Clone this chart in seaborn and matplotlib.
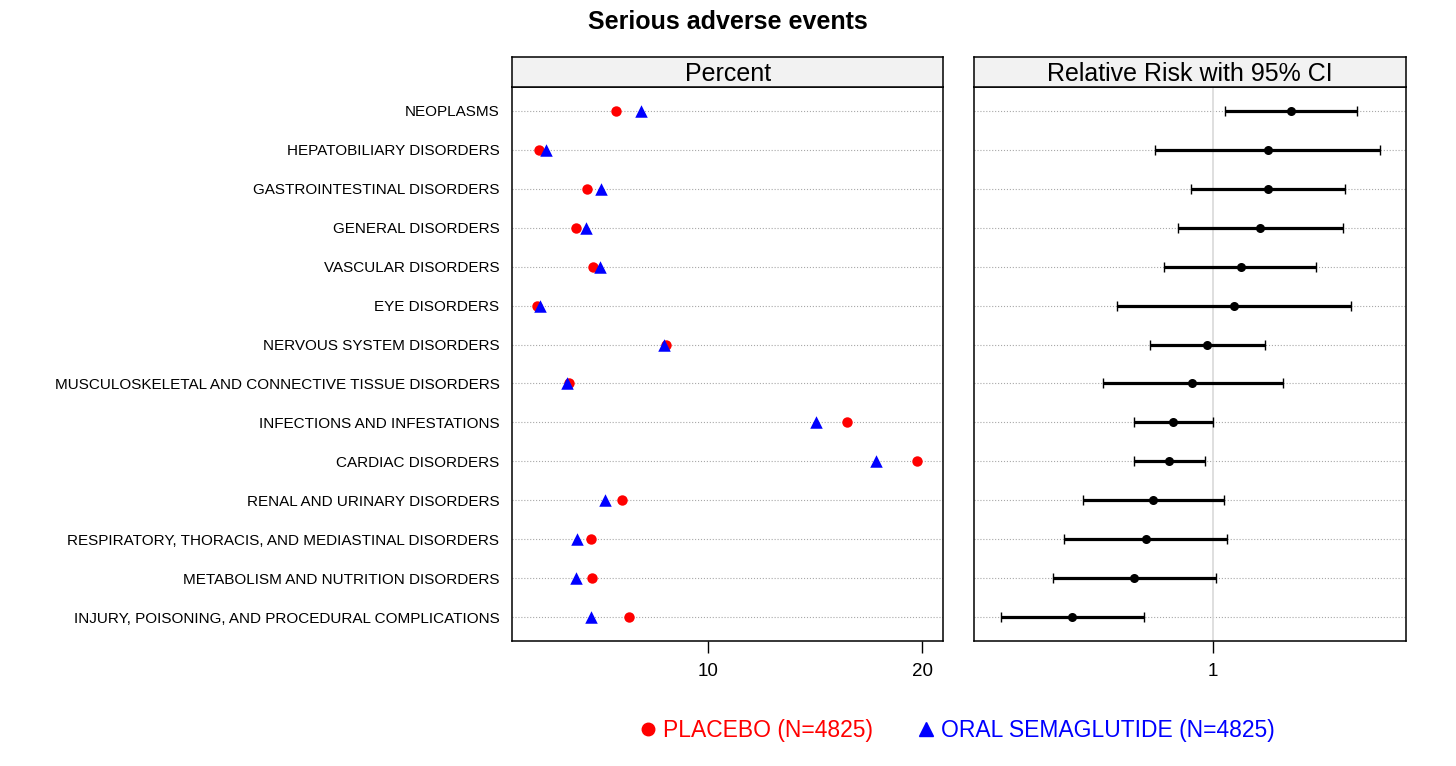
import numpy as np
import pandas as pd
import matplotlib
matplotlib.use("Agg")
from matplotlib import pyplot as plt
from matplotlib.lines import Line2D
from matplotlib.ticker import NullLocator
import seaborn as sns

# Serious adverse events, oral semaglutide vs placebo
categories = [
    "NEOPLASMS",
    "HEPATOBILIARY DISORDERS",
    "GASTROINTESTINAL DISORDERS",
    "GENERAL DISORDERS",
    "VASCULAR DISORDERS",
    "EYE DISORDERS",
    "NERVOUS SYSTEM DISORDERS",
    "MUSCULOSKELETAL AND CONNECTIVE TISSUE DISORDERS",
    "INFECTIONS AND INFESTATIONS",
    "CARDIAC DISORDERS",
    "RENAL AND URINARY DISORDERS",
    "RESPIRATORY, THORACIS, AND MEDIASTINAL DISORDERS",
    "METABOLISM AND NUTRITION DISORDERS",
    "INJURY, POISONING, AND PROCEDURAL COMPLICATIONS",
]
placebo_pct = [5.67, 2.08, 4.33, 3.80, 4.58, 1.98, 8.02, 3.48, 16.50, 19.77, 5.95, 4.50, 4.53, 6.30]
sema_pct = [6.84, 2.39, 4.97, 4.27, 4.92, 2.11, 7.90, 3.36, 15.05, 17.84, 5.17, 3.84, 3.78, 4.52]
rr = [1.204, 1.139, 1.139, 1.119, 1.068, 1.051, 0.987, 0.952, 0.911, 0.902, 0.868, 0.853, 0.830, 0.717]
rr_low = [1.030, 0.873, 0.949, 0.921, 0.891, 0.797, 0.862, 0.771, 0.830, 0.830, 0.736, 0.704, 0.685, 0.606]
rr_high = [1.406, 1.483, 1.366, 1.360, 1.277, 1.384, 1.131, 1.179, 1.001, 0.982, 1.026, 1.035, 1.008, 0.850]

placebo_label = "PLACEBO (N=4825)"
sema_label = "ORAL SEMAGLUTIDE (N=4825)"

sns.set_theme(style="white")
plt.rcParams["font.family"] = ["Liberation Sans", "DejaVu Sans"]
plt.rcParams["text.color"] = "black"
plt.rcParams["axes.labelcolor"] = "black"
plt.rcParams["xtick.color"] = "black"
plt.rcParams["ytick.color"] = "black"

df = pd.DataFrame({
    "event": categories,
    "placebo": placebo_pct,
    "sema": sema_pct,
    "rr": rr,
    "lo": rr_low,
    "hi": rr_high,
})

fig = plt.figure(figsize=(14.56, 7.66), dpi=100)
ax1 = fig.add_axes([0.3516, 0.1632, 0.2964, 0.7232])
ax2 = fig.add_axes([0.669, 0.1632, 0.2967, 0.7232])

# left panel: percent
sns.stripplot(data=df, x="placebo", y="event", order=categories, jitter=False,
              color="red", marker="o", size=7.5, linewidth=0, ax=ax1, zorder=3)
sns.stripplot(data=df, x="sema", y="event", order=categories, jitter=False,
              color="blue", marker="^", size=9, linewidth=0, ax=ax1, zorder=4)
ax1.set_xlim(0.8, 21.0)
ax1.set_xticks([10, 20])
ax1.set_xticklabels(["10", "20"])

# right panel: relative risk
ax2.set_xscale("log")
ypos = np.arange(len(categories))
ax2.errorbar(df["rr"], ypos, xerr=[df["rr"] - df["lo"], df["hi"] - df["rr"]],
             fmt="none", ecolor="black", elinewidth=2.3, capsize=3.6, capthick=1, zorder=3)
sns.stripplot(data=df, x="rr", y="event", order=categories, jitter=False,
              color="black", size=6.5, linewidth=0, ax=ax2, zorder=4)
ax2.axvline(1, color="#d9d9d9", lw=1.2, zorder=1)
ax2.set_xlim(0.569, 1.578)
ax2.xaxis.set_minor_locator(NullLocator())
ax2.set_xticks([1])
ax2.set_xticklabels(["1"])
ax2.set_yticklabels([])

for ax in (ax1, ax2):
    ax.set_ylim(13.61, -0.61)
    ax.set_xlabel("")
    ax.set_ylabel("")
    ax.set_axisbelow(True)
    ax.yaxis.grid(True, linestyle=":", color="#a8a8a8", lw=0.8)
    ax.xaxis.grid(False)
    ax.tick_params(axis="x", bottom=True, direction="out", length=8.6, width=1,
                   labelsize=13.5, pad=7, colors="black")
    ax.tick_params(axis="y", left=False, length=0, labelsize=11, pad=9,
                   colors="black")
    for s in ax.spines.values():
        s.set_color("black")
        s.set_linewidth(1.1)

# strip headers
for ax, title in [(ax1, "Percent"), (ax2, "Relative Risk with 95% CI")]:
    pos = ax.get_position()
    sax = fig.add_axes([pos.x0, pos.y1, pos.width, 0.0398])
    sax.set_facecolor("#f2f2f2")
    sax.set_xticks([])
    sax.set_yticks([])
    for s in sax.spines.values():
        s.set_color("black")
        s.set_linewidth(1.1)
    sax.text(0.5, 0.42, title, ha="center", va="center", fontsize=18,
             color="black", transform=sax.transAxes)

fig.text(0.5, 1 - 22 / 766, "Serious adverse events", ha="center", va="center",
         fontsize=18, fontweight="bold", color="black")

handles = [
    Line2D([], [], marker="o", color="red", linestyle="None", markersize=9),
    Line2D([], [], marker="^", color="blue", linestyle="None", markersize=10),
]
fig.legend(handles=handles, labels=[placebo_label, sema_label], loc="center",
           bbox_to_anchor=(958 / 1456, 1 - 731 / 766), ncol=2, frameon=False,
           fontsize=16.5, handlelength=0.6, handletextpad=0.35, columnspacing=2.0,
           labelcolor=["red", "blue"])

fig.savefig("out.png", dpi=100)
